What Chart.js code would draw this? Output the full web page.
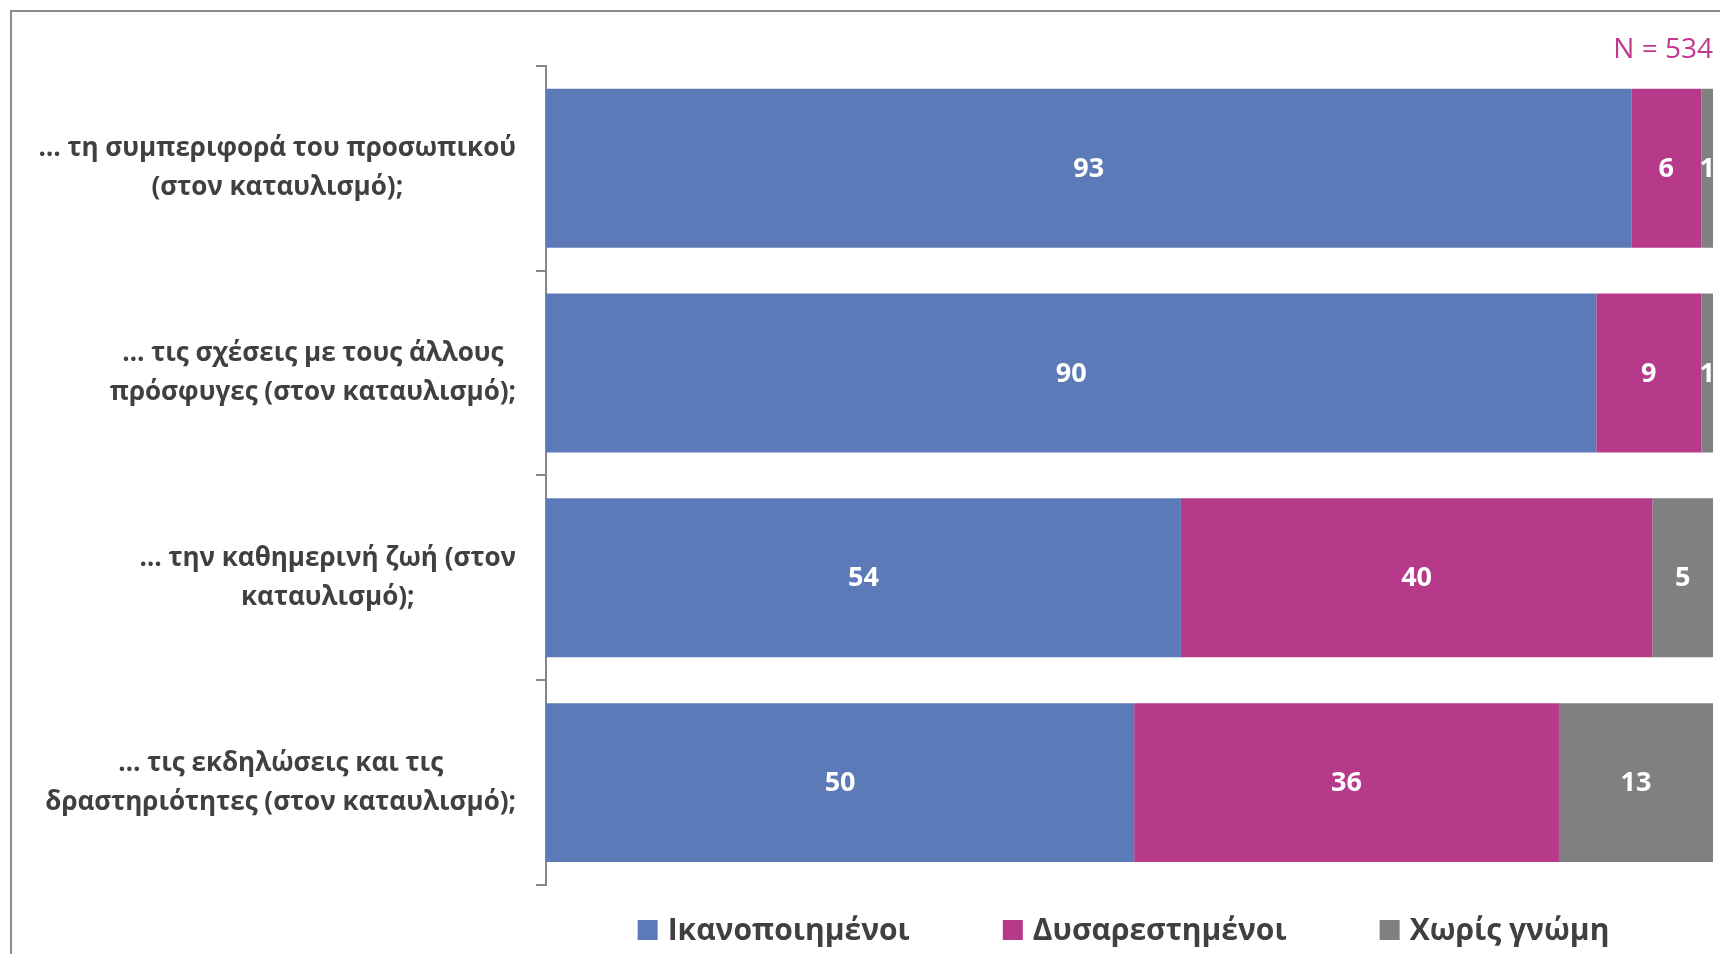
<!DOCTYPE html>
<html>
<head>
<meta charset="utf-8">
<style>
    body {
        margin: 0;
        background-color: #ffffff;
        overflow: hidden;
    }

    /* grey frame of the original slide, cut off at right and bottom */
    .frame {
        position: absolute;
        left: 10px;
        top: 10px;
        width: 1740px;
        height: 980px;
        border: 2px solid #8c8c8c;
    }

    .chart-box {
        position: absolute;
        left: 0;
        top: 0;
        width: 1720px;
        height: 954px;
    }
</style>
<script src="https://cdn.jsdelivr.net/npm/chart.js"></script>
</head>
<body>
<div class="frame"></div>
<div class="chart-box">
    <canvas id="satisfactionChart" width="1720" height="954"></canvas>
</div>
<script>
    // Categories (each one is a two line label)
    var categories = [
        ['… τη συμπεριφορά του προσωπικού', '(στον καταυλισμό);'],
        ['… τις σχέσεις με τους άλλους', 'πρόσφυγες (στον καταυλισμό);'],
        ['… την καθημερινή ζωή (στον', 'καταυλισμό);'],
        ['… τις εκδηλώσεις και τις', 'δραστηριότητες (στον καταυλισμό);']
    ];

    // Percentages per answer
    var satisfied = [93, 90, 54.4, 50.4];
    var dissatisfied = [6, 9, 40.4, 36.4];
    var noOpinion = [1, 1, 5.2, 13.2];

    var seriesNames = ['Ικανοποιημένοι', 'Δυσαρεστημένοι', 'Χωρίς γνώμη'];
    var sampleText = 'N = 534';

    var textColor = '#404040';

    // Values, category labels and legend drawn on the canvas
    var extrasPlugin = {
        id: 'extras',
        afterDatasetsDraw: function(chart) {
            var ctx = chart.ctx;
            var area = chart.chartArea;
            var yScale = chart.scales.y;

            // values inside the bar segments
            ctx.save();
            ctx.beginPath();
            ctx.rect(area.left, area.top, area.right - area.left, area.bottom - area.top);
            ctx.clip();
            ctx.font = 'bold 27px "Open Sans"';
            ctx.fillStyle = '#ffffff';
            ctx.textAlign = 'center';
            ctx.textBaseline = 'middle';
            chart.data.datasets.forEach(function(ds, di) {
                chart.getDatasetMeta(di).data.forEach(function(bar, i) {
                    var p = bar.getProps(['x', 'y', 'base'], true);
                    ctx.fillText(String(Math.round(ds.data[i])), (p.x + p.base) / 2, p.y + 1);
                });
            });
            ctx.restore();

            // category labels: block right aligned, lines centred inside it
            ctx.save();
            ctx.font = 'bold 26px "Open Sans"';
            ctx.fillStyle = textColor;
            ctx.textAlign = 'center';
            ctx.textBaseline = 'middle';
            var labelRight = yScale.right - 30;
            chart.data.labels.forEach(function(lines, i) {
                var cy = yScale.getPixelForValue(i);
                var widest = 0;
                lines.forEach(function(line) {
                    widest = Math.max(widest, ctx.measureText(line).width);
                });
                var cx = labelRight - widest / 2;
                lines.forEach(function(line, k) {
                    ctx.fillText(line, cx, cy + (k - (lines.length - 1) / 2) * 39);
                });
            });
            ctx.restore();

            // legend under the plot, centred on the plot area
            ctx.save();
            ctx.font = 'bold 30px "Open Sans"';
            ctx.textBaseline = 'middle';
            ctx.textAlign = 'left';
            var box = 20, gapText = 10, gapItem = 93;
            var widths = chart.data.datasets.map(function(ds) {
                return box + gapText + ctx.measureText(ds.label).width;
            });
            var total = widths.reduce(function(a, b) { return a + b; }, 0) + gapItem * (widths.length - 1);
            var x = (area.left + area.right) / 2 - total / 2 - 6;
            var cyLegend = area.bottom + 45;
            chart.data.datasets.forEach(function(ds, di) {
                ctx.fillStyle = ds.backgroundColor;
                ctx.fillRect(x, cyLegend - box / 2, box, box);
                ctx.fillStyle = textColor;
                ctx.fillText(ds.label, x + box + gapText, cyLegend + 1);
                x += widths[di] + gapItem;
            });
            ctx.restore();
        }
    };

    var ctx = document.getElementById('satisfactionChart').getContext('2d');
    Chart.defaults.font.family = '"Open Sans", sans-serif';

    var satisfactionChart = new Chart(ctx, {
        type: 'bar',
        data: {
            labels: categories,
            datasets: [
                { label: seriesNames[0], data: satisfied, backgroundColor: '#5c7ab7' },
                { label: seriesNames[1], data: dissatisfied, backgroundColor: '#b73989' },
                { label: seriesNames[2], data: noOpinion, backgroundColor: '#808080' }
            ]
        },
        options: {
            indexAxis: 'y',
            responsive: false,
            animation: false,
            barPercentage: 0.776,
            categoryPercentage: 1.0,
            layout: {
                padding: { left: 0, right: 7, top: 0, bottom: 69 }
            },
            plugins: {
                legend: { display: false },
                tooltip: { enabled: false },
                title: {
                    display: true,
                    text: sampleText,
                    align: 'end',
                    color: '#c0398f',
                    font: { size: 28, weight: 'normal', lineHeight: 1.1 },
                    padding: { top: 35, bottom: 0 }
                }
            },
            scales: {
                x: {
                    stacked: true,
                    min: 0,
                    max: 100,
                    display: false
                },
                y: {
                    stacked: true,
                    offset: true,
                    grid: {
                        offset: true,
                        drawOnChartArea: false,
                        drawTicks: true,
                        tickLength: 10,
                        color: '#868686',
                        lineWidth: 2
                    },
                    border: { display: true, color: '#868686', width: 2 },
                    ticks: { display: false },
                    afterFit: function(scale) {
                        scale.width = 546;
                    }
                }
            }
        },
        plugins: [extrasPlugin]
    });
</script>
</body>
</html>
